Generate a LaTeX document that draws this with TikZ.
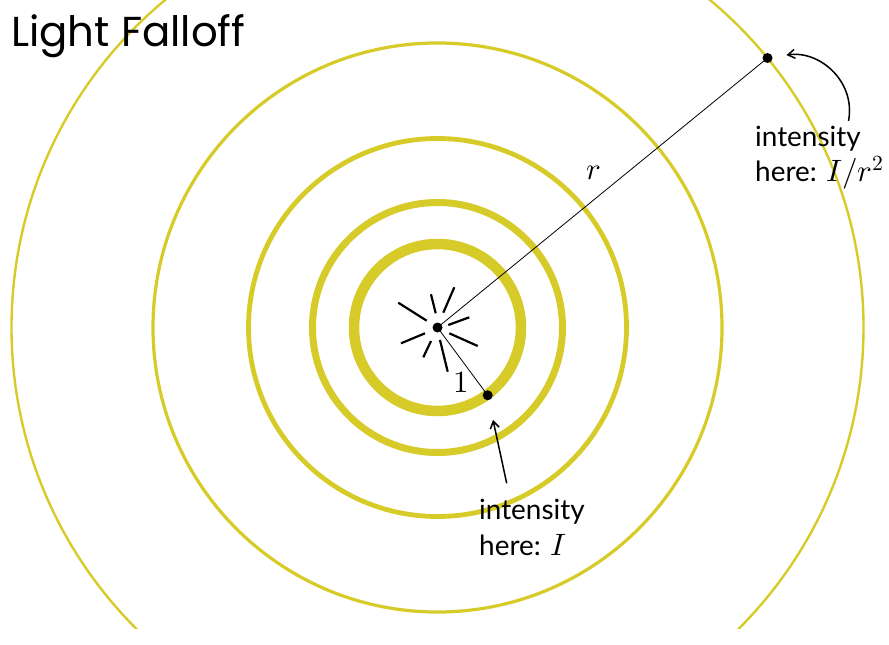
\documentclass[tikz,border=0pt]{standalone}
\usepackage{fontspec}
\usepackage{unicode-math}
\setmainfont{Lato}
\setmathfont{Latin Modern Math}
\newfontfamily\titlefont{Poppins}
\usetikzlibrary{arrows.meta}
\definecolor{ringcol}{RGB}{214,203,40}
\begin{document}
\begin{tikzpicture}[x=1bp,y=-1bp,
  ring/.style={draw=ringcol},
  dot/.style={circle,fill=black,inner sep=0pt,minimum size=10bp},
  ray/.style={line width=2.2bp,line cap=butt},
  lbl/.style={anchor=base west,inner sep=0pt,font=\fontsize{28}{34}\selectfont},
  mlbl/.style={inner sep=0pt,font=\fontsize{31}{36}\selectfont},
  arr/.style={line width=1.5bp,-{Straight Barb[length=7bp,width=9bp]}}]
\useasboundingbox (0,0) rectangle (889,645);
\begin{scope}
\clip (0,0) rectangle (889,628);
\draw[ring,line width=10.5bp] (437.5,327.5) circle[radius=83.5bp];
\draw[ring,line width=7bp] (437.5,327.5) circle[radius=125bp];
\draw[ring,line width=4.8bp] (437.5,327.5) circle[radius=189bp];
\draw[ring,line width=3.2bp] (437.5,327.5) circle[radius=284.5bp];
\draw[ring,line width=2.4bp] (437.5,327.5) circle[radius=426bp];
\end{scope}
% rays
\draw[ray] (398.3,302.7) -- (426.7,320.7);
\draw[ray] (431,294.3) -- (435.7,313.3);
\draw[ray] (454.3,287.3) -- (443.3,312.7);
\draw[ray] (469.3,317.3) -- (448.3,325);
\draw[ray] (477.7,346) -- (449.3,333.3);
\draw[ray] (440,340) -- (447.7,371.7);
\draw[ray] (431,341) -- (423.3,357.3);
\draw[ray] (425,333.3) -- (401,343.3);
% points
\node[dot] (c) at (437.5,327.5) {};
\node[dot] (p1) at (487.7,395.3) {};
\node[dot] (p2) at (767.5,58) {};
\draw[line width=0.8bp] (c.center) -- (p1.center);
\draw[line width=0.8bp] (c.center) -- (p2.center);
\node[mlbl] (one) at (461,382) {$1$};
\node[mlbl] (r) at (594,173) {$r$};
% title
\node[anchor=base west,inner sep=0pt,font=\titlefont\fontsize{42}{50}\selectfont] (title) at (11,47) {Light Falloff};
% labels
\node[lbl] (l1a) at (479,519) {intensity};
\node[lbl] (l1b) at (479,555) {here: {\fontsize{31}{36}\selectfont$I$}};
\node[lbl] (l2a) at (755,146.7) {intensity};
\node[lbl] (l2b) at (755,181.7) {here: {\fontsize{31}{36}\selectfont$I/r^2$}};
\coordinate (t1) at (506.7,483.3);
\coordinate (t2) at (848.5,121);
\draw[arr,shorten >=20bp] (t1) -- (p1);
\draw[arr,shorten >=14bp] (t2) .. controls (856,82) and (820,50) .. (p2);
\end{tikzpicture}
\end{document}
